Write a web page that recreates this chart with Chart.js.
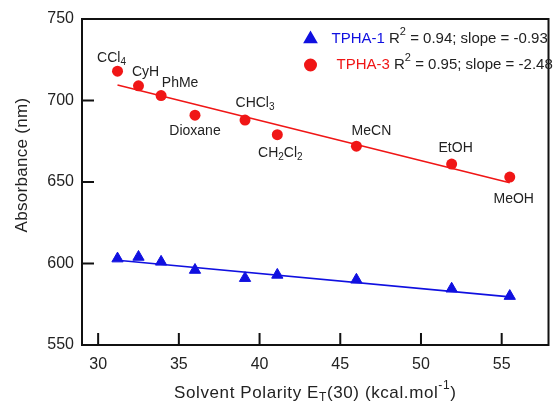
<!DOCTYPE html>
<html>
<head>
<meta charset="utf-8">
<style>
  html, body { margin: 0; padding: 0; background: #fff; }
</style>
</head>
<body>
<canvas id="polarityChart" width="556" height="407"></canvas>

<script src="https://cdn.jsdelivr.net/npm/chart.js"></script>
<script>
// values
const solvents = ['CCl_4', 'CyH', 'PhMe', 'Dioxane', 'CHCl_3', 'CH_2Cl_2', 'MeCN', 'EtOH', 'MeOH'];
const polarity = [31.2, 32.5, 33.9, 36.0, 39.1, 41.1, 46.0, 51.9, 55.5];
const tpha1 = [603, 604, 601, 596, 591, 593, 590, 584.5, 580];
const tpha3 = [718, 709, 703, 691, 688, 679, 672, 661, 653];
const fitX = [31.2, 55.5];
const fit1 = [602, 579.5];
const fit3 = [709.5, 649.5];
const seriesNames = ['TPHA-1', 'TPHA-3'];
const r2Values = ['0.94', '0.95'];
const slopes = ['-0.93', '-2.48'];
const xTicks = [30, 35, 40, 45, 50, 55];
const yTicks = [550, 600, 650, 700, 750];

const RED = '#f01616';
const BLUE = '#1010e0';
const FONT = '"Liberation Sans", Arial, sans-serif';

// draws text made of pieces, some of them sub/superscript
function drawRich(ctx, parts, x, y, size, align, spacing) {
  const small = Math.round(size * 0.7);
  ctx.letterSpacing = (spacing || 0) + 'px';
  let total = 0;
  parts.forEach(p => {
    ctx.font = (p.mode ? small : size) + 'px ' + FONT;
    p.w = ctx.measureText(p.t).width;
    total += p.w;
  });
  let cx = align === 'center' ? x - total / 2 : x;
  ctx.textAlign = 'left';
  ctx.textBaseline = 'middle';
  parts.forEach(p => {
    ctx.font = (p.mode ? small : size) + 'px ' + FONT;
    ctx.fillStyle = p.color || '#222';
    let dy = 0;
    if (p.mode === 'sub') dy = size * 0.3;
    if (p.mode === 'sup') dy = -size * 0.45;
    ctx.fillText(p.t, cx, y + dy);
    cx += p.w;
  });
  ctx.letterSpacing = '0px';
}

function chemParts(name) {
  return name.split(/_(\d)/).filter(s => s !== '').map(s => {
    return /^\d$/.test(s) ? { t: s, mode: 'sub' } : { t: s };
  });
}

const decorPlugin = {
  id: 'decor',
  afterDraw(chart, args, opts) {
    const ctx = chart.ctx;
    const a = chart.chartArea;
    const xs = chart.scales.x, ys = chart.scales.y;
    ctx.save();

    // frame and inward ticks
    ctx.strokeStyle = '#111';
    ctx.lineWidth = 2;
    ctx.strokeRect(a.left, a.top, a.right - a.left, a.bottom - a.top);
    ctx.beginPath();
    xs.ticks.forEach(t => {
      const px = xs.getPixelForValue(t.value);
      ctx.moveTo(px, a.bottom);
      ctx.lineTo(px, a.bottom - 12);
    });
    ys.ticks.forEach(t => {
      const py = ys.getPixelForValue(t.value);
      ctx.moveTo(a.left, py);
      ctx.lineTo(a.left + 12, py);
    });
    ctx.stroke();

    // solvent labels next to the TPHA-3 points
    solvents.forEach((s, i) => {
      const px = xs.getPixelForValue(polarity[i]) + opts.offsets[i][0];
      const py = ys.getPixelForValue(tpha3[i]) + opts.offsets[i][1];
      drawRich(ctx, chemParts(s), px, py, 14, 'center');
    });

    // legend
    const lx = a.right - 238;
    const rows = [
      { y: a.top + 20, style: 'triangle', r: 6.5, color: BLUE, textX: a.right - 217 },
      { y: a.top + 46, style: 'circle', r: 5.5, color: RED, textX: a.right - 212 }
    ];
    rows.forEach((r, i) => {
      ctx.fillStyle = r.color;
      ctx.strokeStyle = r.color;
      Chart.helpers.drawPoint(ctx, { pointStyle: r.style, radius: r.r, rotation: 0, borderWidth: 1 }, lx, r.y);
      drawRich(ctx, [
        { t: seriesNames[i] + ' ', color: r.color },
        { t: 'R' },
        { t: '2', mode: 'sup' },
        { t: ' = ' + r2Values[i] + '; slope = ' + slopes[i] }
      ], r.textX, r.y, 15, 'left');
    });

    // axis titles
    drawRich(ctx, [
      { t: 'Solvent Polarity E' },
      { t: 'T', mode: 'sub' },
      { t: '(30) (kcal.mol' },
      { t: '-1', mode: 'sup' },
      { t: ')' }
    ], (a.left + a.right) / 2, 393, 17, 'center', 0.6);

    ctx.translate(22, a.top + 146);
    ctx.rotate(-Math.PI / 2);
    drawRich(ctx, [{ t: 'Absorbance (nm)' }], 0, 0, 17, 'center', 0.3);
    ctx.restore();
  }
};

const ctx = document.getElementById('polarityChart').getContext('2d');
new Chart(ctx, {
  type: 'scatter',
  data: {
    datasets: [
      {
        label: 'TPHA-1',
        data: polarity.map((x, i) => ({ x: x, y: tpha1[i] })),
        pointStyle: 'triangle',
        pointRadius: 6.5,
        backgroundColor: BLUE,
        borderColor: BLUE,
        borderWidth: 1,
        order: 1
      },
      {
        label: 'TPHA-3',
        data: polarity.map((x, i) => ({ x: x, y: tpha3[i] })),
        pointStyle: 'circle',
        pointRadius: 5.5,
        backgroundColor: RED,
        borderColor: RED,
        borderWidth: 0,
        order: 1
      },
      {
        label: 'fit 1',
        data: fitX.map((x, i) => ({ x: x, y: fit1[i] })),
        showLine: true,
        pointRadius: 0,
        borderColor: BLUE,
        borderWidth: 1.6,
        order: 2
      },
      {
        label: 'fit 3',
        data: fitX.map((x, i) => ({ x: x, y: fit3[i] })),
        showLine: true,
        pointRadius: 0,
        borderColor: RED,
        borderWidth: 1.6,
        order: 2
      }
    ]
  },
  options: {
    responsive: false,
    animation: false,
    layout: { padding: { top: 19, right: 2, left: 0, bottom: 0 } },
    plugins: {
      legend: { display: false },
      tooltip: { enabled: false },
      decor: {
        offsets: [[-6, -13], [7, -14], [19, -12], [0, 16], [10, -17], [3, 18], [15, -15], [4, -16], [4, 22]]
      }
    },
    scales: {
      x: {
        type: 'linear',
        min: 29,
        max: 57.9,
        afterBuildTicks: s => { s.ticks = xTicks.map(v => ({ value: v })); },
        afterFit: s => { s.height = 62; },
        grid: { display: false, drawTicks: false },
        border: { display: false },
        ticks: { color: '#222', padding: 10, font: { family: FONT, size: 16 } }
      },
      y: {
        min: 550,
        max: 750,
        afterBuildTicks: s => { s.ticks = yTicks.map(v => ({ value: v })); },
        afterFit: s => { s.width = 82; },
        grid: { display: false, drawTicks: false },
        border: { display: false },
        ticks: { color: '#222', padding: 8, font: { family: FONT, size: 16 } }
      }
    }
  },
  plugins: [decorPlugin]
});
</script>
</body>
</html>
